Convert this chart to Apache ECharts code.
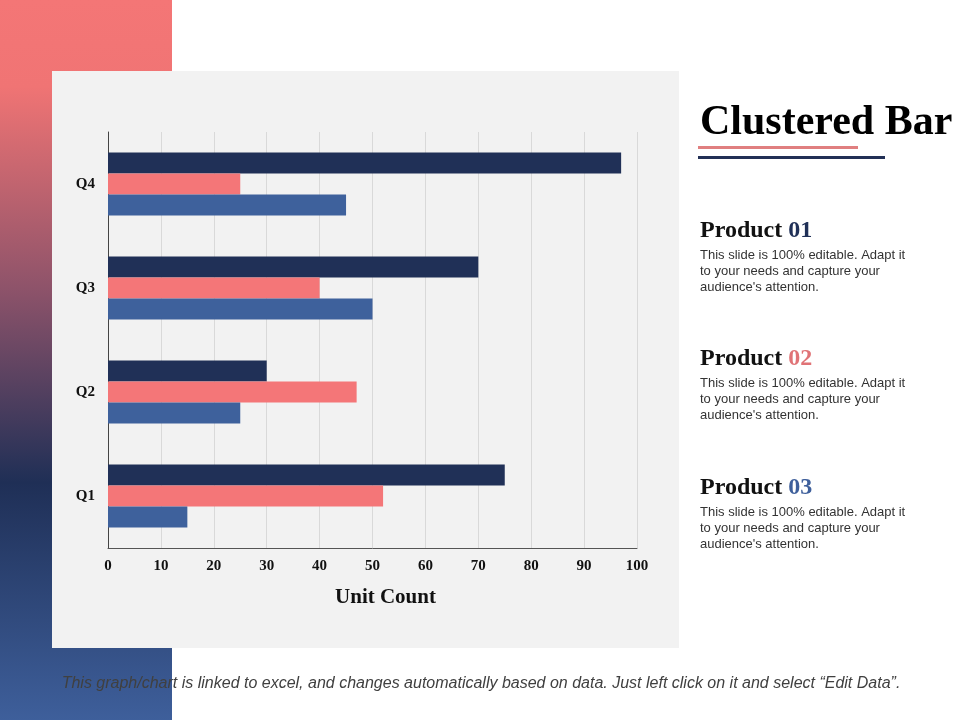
<html>
<head>
    <meta charset="utf-8">
    <script src="https://cdn.jsdelivr.net/npm/echarts@6/dist/echarts.min.js"></script>
</head>
<body style="margin:0">
<div id="main" style="width:960px;height:720px"></div>
<script>
    // data
    var quarters = ['Q1', 'Q2', 'Q3', 'Q4'];
    var product01 = [75, 30, 70, 97];
    var product02 = [52, 47, 40, 25];
    var product03 = [15, 25, 50, 45];
    var xTicks = [0, 10, 20, 30, 40, 50, 60, 70, 80, 90, 100];

    var navy = '#203057', salmon = '#f47678', blue = '#3e619c';
    var serif = '"Liberation Serif", "Times New Roman", serif';
    var sans = '"Liberation Sans", Arial, sans-serif';
    var blurb = 'This slide is 100% editable. Adapt it\nto your needs and capture your\naudience\'s attention.';

    var chart = echarts.init(document.getElementById('main'));

    function productBlock(top, num, color) {
        return [{
            type: 'text', left: 700, top: top,
            style: {
                text: '{a|Product }{b|' + num + '}',
                rich: {
                    a: {fontFamily: serif, fontWeight: 'bold', fontSize: 24, fill: '#111'},
                    b: {fontFamily: serif, fontWeight: 'bold', fontSize: 24, fill: color}
                }
            }
        }, {
            type: 'text', left: 700, top: top + 28,
            style: {text: blurb, font: '13px ' + sans, fill: '#333', lineHeight: 16}
        }];
    }

    var option = {
        animation: false,
        backgroundColor: '#fff',
        graphic: [
            {
                type: 'rect', z: -10, shape: {x: 0, y: 0, width: 172, height: 720},
                style: {
                    fill: new echarts.graphic.LinearGradient(0, 0, 0, 1, [
                        {offset: 0, color: '#f47676'},
                        {offset: 0.12, color: '#f07474'},
                        {offset: 0.4, color: '#8e536a'},
                        {offset: 0.67, color: '#1f2f56'},
                        {offset: 1, color: '#3e5f9b'}
                    ])
                }
            },
            {type: 'rect', z: -9, shape: {x: 52, y: 71, width: 627, height: 577}, style: {fill: '#f2f2f2'}},
            {
                type: 'text', left: 700, top: 102,
                style: {text: 'Clustered Bar', font: 'bold 42px ' + serif, fill: '#000'}
            },
            {type: 'rect', shape: {x: 698, y: 146, width: 160, height: 3}, style: {fill: '#e07f80'}},
            {type: 'rect', shape: {x: 698, y: 156, width: 187, height: 3}, style: {fill: '#223056'}}
        ]
            .concat(productBlock(219, '01', navy))
            .concat(productBlock(347, '02', '#e07376'))
            .concat(productBlock(476, '03', '#3e5f9b'))
            .concat([{
                type: 'text', x: 481, y: 684,
                style: {
                    text: 'This graph/chart is linked to excel, and changes automatically based on data. Just left click on it and select \u201cEdit Data\u201d.',
                    font: 'italic 16px "Liberation Sans Narrow", "Arial Narrow", sans-serif',
                    fill: '#404040', align: 'center', verticalAlign: 'middle'
                }
            }]),
        grid: {left: 108, right: 323, top: 132, bottom: 172},
        xAxis: {
            type: 'value', min: xTicks[0], max: xTicks[xTicks.length - 1], interval: 10,
            name: 'Unit Count', nameLocation: 'middle', nameGap: 39,
            nameTextStyle: {fontFamily: serif, fontWeight: 'bold', fontSize: 21, color: '#111', padding: [0, 0, 0, 26]},
            axisLine: {show: true, lineStyle: {color: '#555', width: 1}},
            axisTick: {show: false},
            axisLabel: {fontFamily: serif, fontWeight: 'bold', fontSize: 15, color: '#111', margin: 11},
            splitLine: {lineStyle: {color: '#d9d9d9', width: 1}}
        },
        yAxis: {
            type: 'category', data: quarters,
            axisLine: {lineStyle: {color: '#444', width: 1}},
            axisTick: {show: false},
            axisLabel: {fontFamily: serif, fontWeight: 'bold', fontSize: 15, color: '#111', margin: 13}
        },
        // first series is drawn on top of each group
        series: [
            {name: 'Product 01', type: 'bar', data: product01, barWidth: 21, barGap: '0%', itemStyle: {color: navy}},
            {name: 'Product 02', type: 'bar', data: product02, barWidth: 21, barGap: '0%', itemStyle: {color: salmon}},
            {name: 'Product 03', type: 'bar', data: product03, barWidth: 21, barGap: '0%', itemStyle: {color: blue}}
        ]
    };

    chart.setOption(option);
</script>
</body>
</html>
